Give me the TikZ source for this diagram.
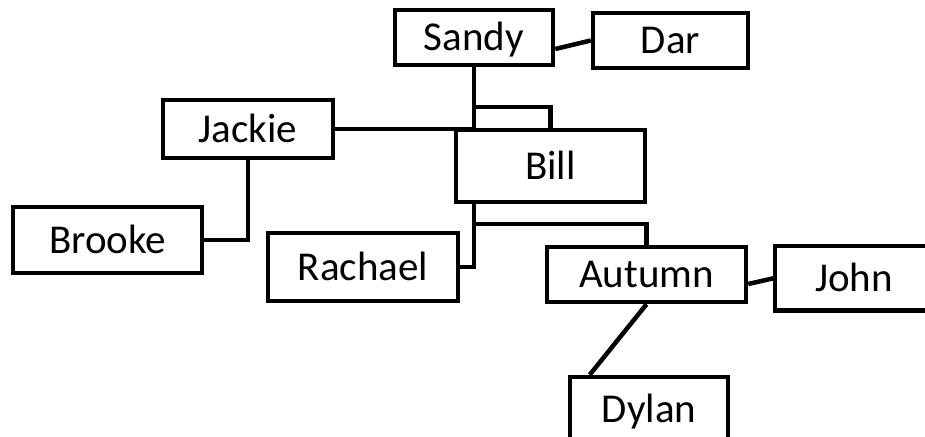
\documentclass[tikz,border=0pt]{standalone}
\usepackage{fontspec}
\setmainfont{Carlito}
\usepackage{tikz}

\tikzset{
  person/.style={draw, line width=4.5pt, fill=white, inner sep=0pt,
    text height=26pt, text depth=0pt,
    font=\fontsize{41}{48}\selectfont},
  link/.style={line width=4.5pt}
}

\begin{document}
\begin{tikzpicture}[x=1pt, y=-1pt]
  \useasboundingbox (0,0) rectangle (925,436);
  % family boxes
  \node[person, minimum width=158pt, minimum height=55pt] (sandy) at (474,37.5) {Sandy};
  \node[person, minimum width=155pt, minimum height=55pt] (dar) at (670.5,40.5) {Dar};
  \node[person, minimum width=170pt, minimum height=58pt] (jackie) at (248,129) {Jackie};
  \node[person, minimum width=189pt, minimum height=72pt] (bill) at (550.5,166) {Bill};
  \node[person, minimum width=189pt, minimum height=66pt] (brooke) at (107.5,240) {Brooke};
  \node[person, minimum width=190pt, minimum height=68pt] (rachael) at (363,267) {Rachael};
  \node[person, minimum width=199pt, minimum height=55pt] (autumn) at (646.5,274.5) {Autumn};
  \node[person, draw=none, minimum width=254pt, minimum height=60pt] (john) at (904,278) {John\hspace*{100pt}};
  \draw[link] (john.north east) -- (john.north west) -- (john.south west) -- (john.south east);
  \node[person, minimum width=158pt, minimum height=64pt] (dylan) at (649,409) {Dylan};
  % junctions
  \coordinate (sj) at (474,107);
  \coordinate (bj) at (474,224);
  % links
  \draw[link] ([yshift=-11.5pt]sandy.east) -- (dar.west);
  \draw[link] (sandy.south) -- (sandy.south |- bill.north);
  \draw[link] (sj) -| (bill.north);
  \draw[link] (jackie.east) -- (jackie.east -| sj);
  \draw[link] (jackie.south) |- (brooke.east);
  \draw[link] (bill.south -| bj) |- (rachael.east);
  \draw[link] (bj) -| (autumn.north);
  \draw[link] ([yshift=-9.5pt]autumn.east) -- (john.west);
  \draw[link] (autumn.south) -- ([xshift=22pt]dylan.north west);
\end{tikzpicture}
\end{document}
